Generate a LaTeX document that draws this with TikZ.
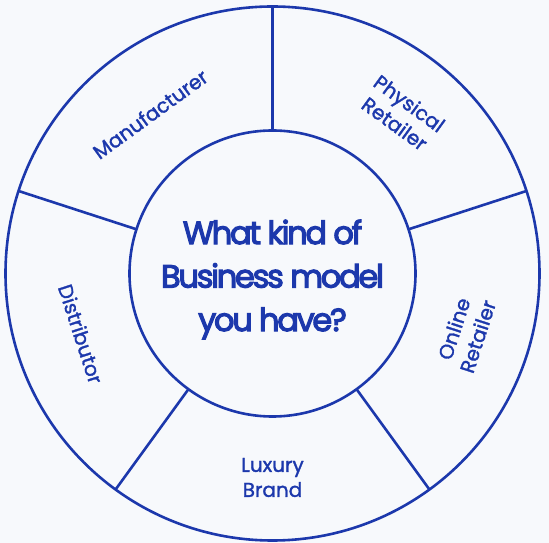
\documentclass[tikz,border=0pt]{standalone}
\usepackage{fontspec}
\usetikzlibrary{calc}
\setmainfont{Poppins}
\newfontfamily\labelfont[FakeBold=1.5]{Poppins}
\newfontfamily\titlefont[FakeBold=3.5,LetterSpace=-7]{Poppins}
\definecolor{ink}{HTML}{1C38AC}
\definecolor{bgc}{HTML}{F7F9FC}
\begin{document}
\begin{tikzpicture}[x=1pt,y=1pt,
  ring/.style={circle, draw=ink, line width=2.6pt, outer sep=0pt, inner sep=0pt},
  divider/.style={draw=ink, line width=2.6pt},
  seglabel/.style={text=ink, font=\labelfont\fontsize{20}{25}\selectfont, align=center, inner sep=0pt},
  centertext/.style={text=ink, font=\titlefont\fontsize{32}{43.5}\selectfont, align=center, inner sep=0pt}]
\fill[bgc] (0,0) rectangle (549,543);
\useasboundingbox (0,0) rectangle (549,543);
\coordinate (c) at (272.5,269.5);
\node[ring, minimum size=534pt] (outer) at (c) {};
\node[ring, minimum size=286pt] (inner) at (c) {};
\node[centertext] (q) at ([yshift=-6pt]c) {What kind of\\Business model\\you have?};
\foreach \a in {90,162,234,306,18} \draw[divider] (inner.\a) -- (outer.\a);
\node[seglabel, rotate=36] (manu) at ($(c)+(127.5:201)$) {Manufacturer};
\node[seglabel, rotate=-36] (phys) at ($(c)+(51:206)$) {Physical\\Retailer};
\node[seglabel, rotate=72] (online) at ($(c)+(-17:202)$) {Online\\Retailer};
\node[seglabel] (lux) at ($(c)+(270:204)$) {Luxury\\Brand};
\node[seglabel, rotate=-72] (dist) at ($(c)+(197.5:201)$) {Distributor};
\end{tikzpicture}
\end{document}
